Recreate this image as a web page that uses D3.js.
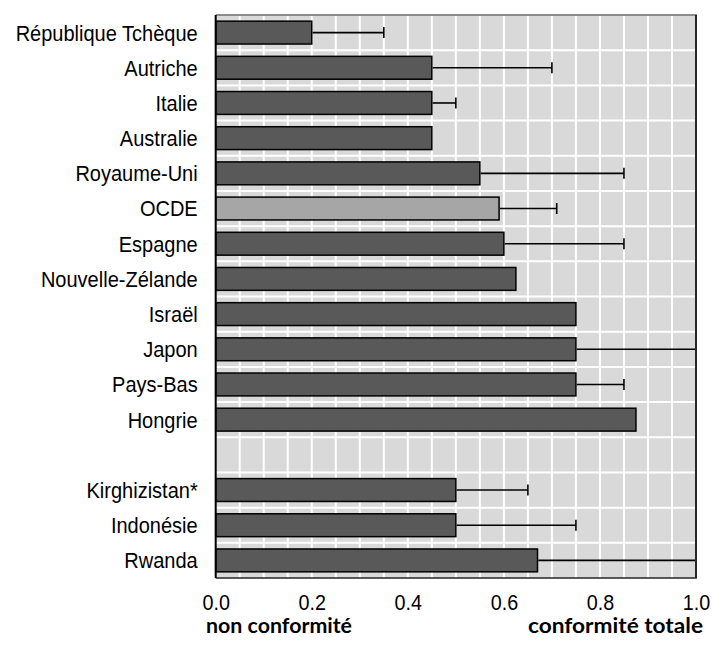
<!DOCTYPE html>
<html><head><meta charset="utf-8">
<script src="https://cdn.jsdelivr.net/npm/d3@7"></script>
<style>body{margin:0;background:#fff}svg{display:block}</style>
</head><body>
<svg id="c" width="713" height="653"></svg>
<script>
const categories = ["République Tchèque","Autriche","Italie","Australie","Royaume-Uni","OCDE","Espagne","Nouvelle-Zélande","Israël","Japon","Pays-Bas","Hongrie","","Kirghizistan*","Indonésie","Rwanda"];
const values     = [0.2,0.45,0.45,0.45,0.55,0.59,0.6,0.625,0.75,0.75,0.75,0.875,null,0.5,0.5,0.67];
const errHigh    = [0.35,0.7,0.5,null,0.85,0.71,0.85,null,null,1.0,0.85,null,null,0.65,0.75,1.0];
const highlight  = ["OCDE"];
const xTicks     = [0,0.2,0.4,0.6,0.8,1.0];
const xEndLabels = ["non conformité","conformité totale"];

const svg = d3.select("#c");
const L = 215.7, R = 696, T = 15, B = 578;
const x = d3.scaleLinear().domain([0,1]).range([L,R]);
const keys = categories.map((c,i)=>i);
const y = d3.scaleBand().domain(keys).range([T,B]).paddingInner(0.35).paddingOuter(0.175);
const FONT = "'Liberation Sans', Arial, sans-serif";

// background
svg.append("rect").attr("x",L).attr("y",T).attr("width",R-L).attr("height",B-T).attr("fill","#d9d9d9");
// vertical gridlines every 0.05
const vg = d3.range(1,20).map(k=>k*0.05);
svg.append("g").selectAll("line").data(vg).join("line")
  .attr("x1",d=>x(d)).attr("x2",d=>x(d)).attr("y1",T).attr("y2",B)
  .attr("stroke","#fff").attr("stroke-width",2);
// horizontal gridlines at band boundaries
const step = y.step();
const hg = d3.range(1,categories.length).map(k=>T + k*step);
svg.append("g").selectAll("line").data(hg).join("line")
  .attr("x1",L).attr("x2",R).attr("y1",d=>d).attr("y2",d=>d)
  .attr("stroke","#fff").attr("stroke-width",2);

// bars
const data = categories.map((c,i)=>({c,i,v:values[i],e:errHigh[i]})).filter(d=>d.v!=null);
svg.append("g").selectAll("rect").data(data).join("rect")
  .attr("x",x(0)).attr("y",d=>y(d.i))
  .attr("width",d=>x(d.v)-x(0)).attr("height",y.bandwidth())
  .attr("fill",d=>highlight.includes(d.c)?"#a6a6a6":"#595959")
  .attr("stroke","#000").attr("stroke-width",1.5);

// error bars
const eb = data.filter(d=>d.e!=null);
const g = svg.append("g").attr("stroke","#000").attr("stroke-width",1.6);
g.selectAll(".el").data(eb).join("line")
  .attr("x1",d=>x(d.v)+0.75).attr("x2",d=>x(d.e))
  .attr("y1",d=>y(d.i)+y.bandwidth()/2).attr("y2",d=>y(d.i)+y.bandwidth()/2);
g.selectAll(".ec").data(eb).join("line")
  .attr("x1",d=>x(d.e)).attr("x2",d=>x(d.e))
  .attr("y1",d=>y(d.i)+y.bandwidth()/2-5.5).attr("y2",d=>y(d.i)+y.bandwidth()/2+5.5);

// borders
svg.append("line").attr("x1",L).attr("x2",R+1).attr("y1",T).attr("y2",T).attr("stroke","#8c8c8c").attr("stroke-width",2);
svg.append("line").attr("x1",R).attr("x2",R).attr("y1",T).attr("y2",B).attr("stroke","#262626").attr("stroke-width",2);
svg.append("line").attr("x1",L).attr("x2",R+1).attr("y1",B).attr("y2",B).attr("stroke","#262626").attr("stroke-width",1.5);
svg.append("line").attr("x1",L).attr("x2",L).attr("y1",T).attr("y2",B).attr("stroke","#000").attr("stroke-width",2);

// category labels (slightly condensed)
svg.append("g").selectAll("text").data(data).join("text")
  .attr("transform",d=>`translate(${L-18},${y(d.i)+y.bandwidth()/2}) scale(0.91,1)`)
  .attr("dy","0.36em").attr("text-anchor","end")
  .attr("font-family",FONT).attr("font-size",22)
  .attr("fill","#000").text(d=>d.c);

// x axis tick labels
const xa = d3.axisBottom(x).tickValues(xTicks).tickFormat(d3.format(".1f")).tickSize(0).tickPadding(0);
const ax = svg.append("g").attr("transform",`translate(0,${B})`).call(xa);
ax.select(".domain").remove();
ax.selectAll("text").attr("y",0).attr("dy",0).attr("transform","translate(0,32) scale(0.92,1)")
  .attr("font-family",FONT).attr("font-size",21.5).attr("fill","#000");

// end labels
svg.append("text").attr("x",206).attr("y",633).attr("font-family","Lato, 'Open Sans', sans-serif")
  .attr("font-weight","bold").attr("font-size",20).attr("textLength",146).attr("lengthAdjust","spacingAndGlyphs").text(xEndLabels[0]);
svg.append("text").attr("x",528).attr("y",633).attr("font-family","Lato, 'Open Sans', sans-serif")
  .attr("font-weight","bold").attr("font-size",20).attr("textLength",175).attr("lengthAdjust","spacingAndGlyphs").text(xEndLabels[1]);
</script>
</body></html>
